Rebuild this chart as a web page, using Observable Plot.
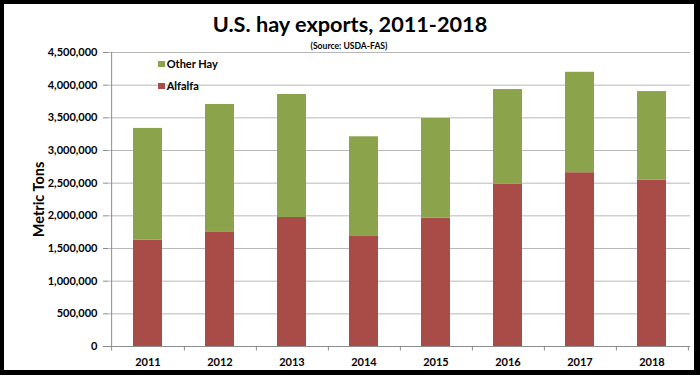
<!DOCTYPE html>
<html>
<head>
<meta charset="utf-8">
<script src="https://cdn.jsdelivr.net/npm/d3@7"></script>
<script src="https://cdn.jsdelivr.net/npm/@observablehq/plot@0.6"></script>
<style>
  html, body { margin: 0; padding: 0; background: #fff; }
  #page { position: relative; width: 700px; height: 375px; overflow: hidden; background: #fff; font-family: Lato, "Open Sans", sans-serif; font-weight: bold; color: #000; }
  #title { position: absolute; left: 0; width: 700px; top: 14.2px; text-align: center; font-size: 21.7px; line-height: 21.7px; white-space: nowrap; }
  #subtitle { position: absolute; left: 0; width: 698px; top: 42px; text-align: center; font-size: 8.6px; line-height: 8.6px; white-space: nowrap; z-index: 2; }
  #chart { position: absolute; left: 0; top: 47px; }
  .legend-item { position: absolute; font-size: 11px; line-height: 11px; white-space: nowrap; z-index: 2; }
  .legend-swatch { position: absolute; width: 7px; height: 6px; }
  #border { position: absolute; left: 0; top: 0; width: 700px; height: 375px; box-sizing: border-box; border-style: solid; border-color: #000; border-width: 4px 6px 5px 4px; pointer-events: none; z-index: 5; }
</style>
</head>
<body>
<div id="page">
  <div id="title">U.S. hay exports, 2011-2018</div>
  <div id="subtitle">(Source: USDA-FAS)</div>
  <div id="chart"></div>
  <div id="legend"></div>
  <div id="border"></div>
</div>
<script>
// ---- data ----
const years = ["2011", "2012", "2013", "2014", "2015", "2016", "2017", "2018"];
const alfalfa = [1628000, 1755000, 1974000, 1694000, 1964000, 2483000, 2660000, 2544000];
const otherHay = [1710000, 1949000, 1883000, 1516000, 1526000, 1450000, 1537000, 1358000];
const seriesNames = ["Alfalfa", "Other Hay"];
const legendNames = ["Other Hay", "Alfalfa"];
const seriesColors = ["#a94b46", "#8ba34b"];
const yTicks = [0, 500000, 1000000, 1500000, 2000000, 2500000, 3000000, 3500000, 4000000, 4500000];

// ---- table for the library ----
const rows = [];
years.forEach((yr, i) => {
  rows.push({year: yr, series: seriesNames[0], value: alfalfa[i]});
  rows.push({year: yr, series: seriesNames[1], value: otherHay[i]});
});

const W = 700, H = 323;
const mL = 108, mR = 10, mT = 5, mB = 24;
const step = (W - mL - mR) / years.length;
const axisGray = "#8c8c8c";
const gridGray = "#b8b8b8";

const chart = Plot.plot({
  width: W,
  height: H,
  marginLeft: mL,
  marginRight: mR,
  marginTop: mT,
  marginBottom: mB,
  style: {background: "transparent", overflow: "visible", fontFamily: "Lato, 'Open Sans', sans-serif", fontWeight: "bold", fontSize: "11px", color: "#000"},
  x: {domain: years, paddingInner: 0.6, paddingOuter: 0.3, label: null},
  y: {domain: [0, 4500000], label: null},
  color: {domain: seriesNames, range: seriesColors},
  marks: [
    Plot.gridY(yTicks, {stroke: gridGray, strokeOpacity: 1}),
    Plot.barY(rows, {x: "year", y: "value", fill: "series", order: seriesNames}),
    Plot.ruleY([0], {stroke: axisGray}),
    Plot.ruleX([years[0]], {x: d => d, dx: -step / 2, y1: -70000, y2: 4500000, stroke: axisGray}),
    Plot.ruleX(years, {x: d => d, dx: step / 2, y1: -70000, y2: 0, stroke: axisGray}),
    Plot.axisY(yTicks, {tickFormat: d3.format(","), tickSize: 5, tickPadding: 6, stroke: axisGray, label: null}),
    Plot.axisX({tickSize: 0, tickPadding: 12, label: null}),
    Plot.axisY({ticks: [], label: "Metric Tons", labelAnchor: "center", labelArrow: "none", labelOffset: 75, fontSize: 14.5})
  ]
});
document.getElementById("chart").appendChild(chart);

// ---- legend (inside the plot area, upper left) ----
const legend = document.getElementById("legend");
const legendTops = [58.2, 79.5];
legendNames.forEach((name, i) => {
  const sw = document.createElement("div");
  sw.className = "legend-swatch";
  sw.style.left = "157.5px";
  sw.style.top = (legendTops[i] + 3) + "px";
  sw.style.background = seriesColors[seriesNames.indexOf(name)];
  legend.appendChild(sw);
  const t = document.createElement("div");
  t.className = "legend-item";
  t.style.left = "166.7px";
  t.style.top = legendTops[i] + "px";
  t.textContent = name;
  legend.appendChild(t);
});
</script>
</body>
</html>
